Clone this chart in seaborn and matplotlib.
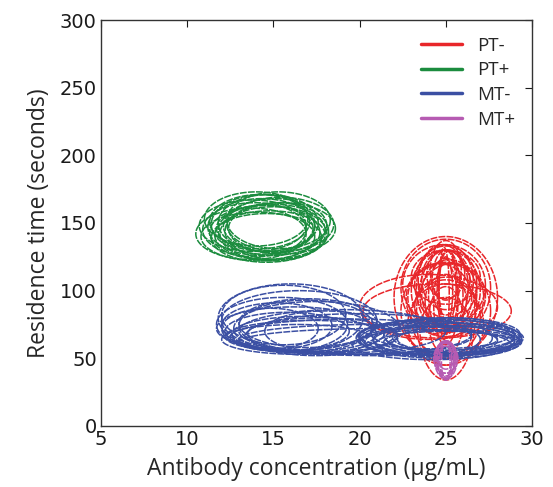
import numpy as np
import pandas as pd
import matplotlib
matplotlib.use("Agg")
import matplotlib.pyplot as plt
import seaborn as sns

# --- Data: one ellipse per measurement (centre and half-axes) ---
GROUPS = ["PT-", "PT+", "MT-", "MT+"]
COLORS = {"PT-": "#e8262a", "PT+": "#1b8c3e", "MT-": "#3b4fa3", "MT+": "#b65bb2"}

# PT- (red)
pt_minus_cx = [25.0, 25.0, 25.0, 24.8, 25.2, 25.0, 25.0, 24.9, 25.1, 25.0, 25.0, 25.0,
               25.0, 25.0, 25.0, 25.0, 24.0, 24.5, 25.0, 25.0, 25.0, 25.0,
               25.0, 24.9, 25.1, 25.0, 25.0, 25.0, 25.0, 24.6, 25.4, 25.0]
pt_minus_cy = [100, 105, 95, 102, 98, 108, 92, 104, 100, 100, 106, 96,
               110, 88, 95, 82, 88, 85, 85, 75, 70, 78,
               112, 98, 103, 90, 115, 102, 80, 94, 96, 107]
pt_minus_rx = [2.0, 1.8, 2.2, 1.5, 1.6, 1.4, 1.2, 2.4, 0.6, 0.4, 0.8, 1.0,
               2.0, 1.8, 3.0, 1.7, 4.0, 4.3, 2.6, 2.2, 1.5, 1.0,
               1.1, 0.3, 0.5, 0.7, 0.9, 2.6, 2.0, 1.9, 1.9, 1.6]
pt_minus_ry = [30, 28, 26, 32, 25, 22, 20, 30, 30, 25, 24, 28,
               20, 22, 45, 48, 24, 20, 35, 30, 25, 25,
               18, 34, 26, 30, 22, 36, 28, 26, 24, 27]

# PT+ (green)
pt_plus_cx = [13.7, 13.9, 14.1, 14.3, 14.5, 14.7, 14.9, 15.1, 15.3, 15.5, 14.0, 14.6,
              15.0, 14.4, 13.8, 14.2, 14.8, 15.2, 14.5, 15.4]
pt_plus_cy = [142, 145, 140, 147, 143, 150, 145, 148, 152, 146, 153, 139,
              142, 149, 148, 151, 141, 144, 146, 149]
pt_plus_rx = [3.2, 3.0, 3.3, 3.1, 3.2, 2.9, 3.1, 3.0, 3.0, 3.1, 3.0, 3.2,
              3.1, 3.0, 3.1, 2.9, 3.2, 3.0, 2.8, 3.1]
pt_plus_ry = [19, 20, 18, 21, 20, 21, 19, 20, 21, 19, 20, 18,
              20, 22, 19, 20, 18, 21, 17, 20]

# MT- (blue)
mt_minus_cx = [16.0, 16.5, 15.5, 17.0, 16.2, 15.8, 17.5, 16.8, 15.2, 17.2, 16.4, 18.0,
               15.6, 16.9, 14.8, 17.8,
               19.5, 20.5, 20.0, 21.0, 19.0,
               24.5, 25.0, 25.5, 24.8, 25.2, 24.0, 25.8, 24.6, 25.4, 23.5, 25.0, 24.2,
               24.9, 25.6, 24.3, 25.1, 23.8]
mt_minus_cy = [80, 78, 75, 76, 72, 70, 72, 68, 74, 66, 64, 70,
               82, 74, 72, 67,
               66, 64, 68, 62, 70,
               66, 64, 65, 62, 67, 63, 64, 65, 62, 64, 68, 60,
               63, 66, 67, 61, 65]
mt_minus_rx = [4.2, 4.5, 3.8, 4.0, 4.5, 3.6, 4.8, 4.2, 3.2, 5.0, 4.4, 3.5,
               3.6, 3.9, 2.8, 4.4,
               7.0, 7.5, 6.5, 8.0, 6.0,
               4.5, 4.2, 4.0, 4.5, 3.8, 4.0, 3.6, 4.8, 4.0, 3.5, 4.3, 4.6,
               4.1, 3.7, 4.4, 4.2, 3.9]
mt_minus_ry = [25, 22, 20, 18, 16, 14, 20, 13, 17, 12, 11, 15,
               22, 19, 15, 13,
               13, 11, 15, 10, 16,
               13, 12, 11, 12, 13, 10, 10, 14, 9, 12, 12, 11,
               11, 12, 10, 9, 13]

# MT+ (magenta)
mt_plus_cx = [25.0, 25.0, 25.0, 25.0, 25.0, 25.0, 25.0, 25.0, 25.0]
mt_plus_cy = [49, 50, 48, 51, 47, 49, 50, 48, 52]
mt_plus_rx = [0.65, 0.55, 0.5, 0.6, 0.45, 0.35, 0.7, 0.25, 0.5]
mt_plus_ry = [14, 13, 14, 12, 12, 13, 11, 14, 10]

X_TICKS = [5, 10, 15, 20, 25, 30]
Y_TICKS = [0, 50, 100, 150, 200, 250, 300]


def ellipse_frame(group, cx, cy, rx, ry, start_id):
    """Outline points of each ellipse, one unit id per ellipse."""
    t = np.linspace(0, 2 * np.pi, 120)
    rows = []
    for i, (x0, y0, a, b) in enumerate(zip(cx, cy, rx, ry)):
        rows.append(pd.DataFrame({
            "x": x0 + a * np.cos(t),
            "y": y0 + b * np.sin(t),
            "group": group,
            "eid": start_id + i,
        }))
    return pd.concat(rows, ignore_index=True)


parts = []
eid = 0
for g, cx, cy, rx, ry in [
    ("PT-", pt_minus_cx, pt_minus_cy, pt_minus_rx, pt_minus_ry),
    ("PT+", pt_plus_cx, pt_plus_cy, pt_plus_rx, pt_plus_ry),
    ("MT-", mt_minus_cx, mt_minus_cy, mt_minus_rx, mt_minus_ry),
    ("MT+", mt_plus_cx, mt_plus_cy, mt_plus_rx, mt_plus_ry),
]:
    parts.append(ellipse_frame(g, cx, cy, rx, ry, eid))
    eid += len(cx)
df = pd.concat(parts, ignore_index=True)

sns.set_style("white")
plt.rcParams["font.family"] = ["DejaVu Sans"]

fig, ax = plt.subplots(figsize=(5.53, 4.87), dpi=100)
fig.subplots_adjust(left=0.1826, right=0.962, bottom=0.1253, top=0.9589)

sns.lineplot(data=df, x="x", y="y", hue="group", hue_order=GROUPS, palette=COLORS,
             units="eid", estimator=None, sort=False, lw=1.1, ax=ax)
for line in ax.lines:
    line.set_dashes([4.5, 0.8])

ax.set_xlim(5, 30)
ax.set_ylim(0, 300)
ax.set_xticks(X_TICKS)
ax.set_yticks(Y_TICKS)
ax.tick_params(direction="in", top=True, right=True, length=5, width=0.8,
               labelsize=14, pad=3, colors="#1a1a1a")
for s in ax.spines.values():
    s.set_color("#333333")
    s.set_linewidth(1.0)

ax.set_xlabel("Antibody concentration (µg/mL)", fontsize=16.5, family="Open Sans", labelpad=6)
ax.set_ylabel("Residence time (seconds)", fontsize=16.5, family="Open Sans", labelpad=6)

handles, labels = ax.get_legend_handles_labels()
leg = ax.legend(handles, labels, loc="upper right", frameon=False,
                prop={"family": "Open Sans", "size": 13.5}, handlelength=2.2,
                labelspacing=0.35, borderaxespad=0.5)
for h in leg.get_lines():
    h.set_linestyle("-")
    h.set_linewidth(2.5)

plt.savefig("out.png", dpi=100)
